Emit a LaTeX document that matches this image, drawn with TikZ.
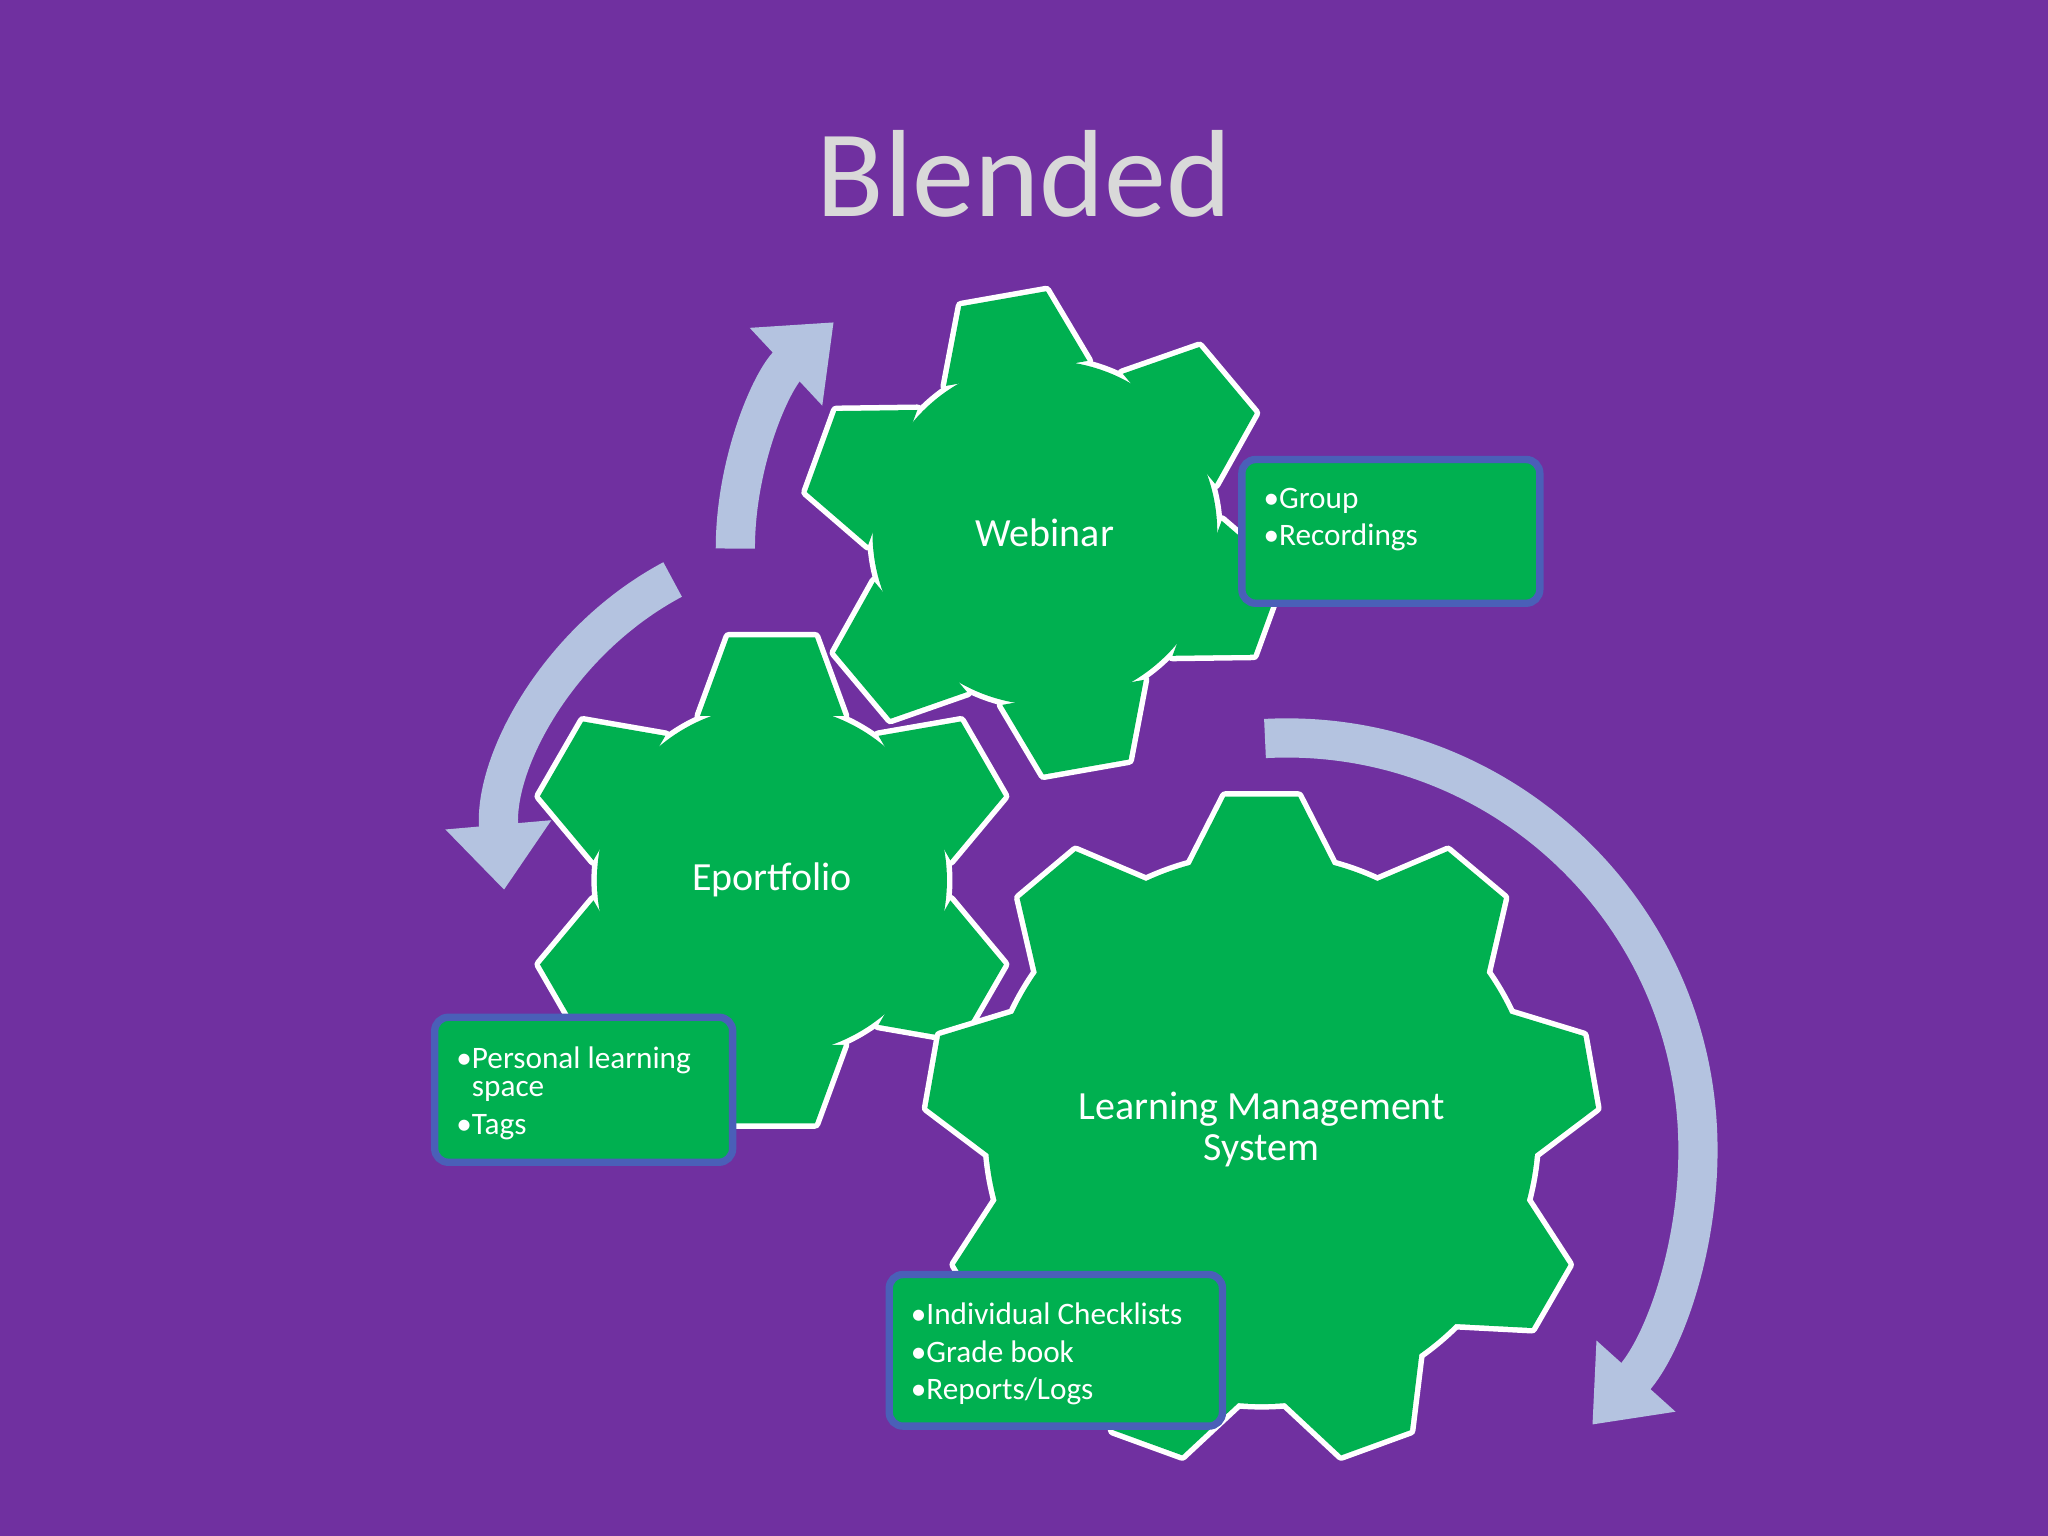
\documentclass[tikz,border=0pt]{standalone}
\usepackage{fontspec}
\setmainfont{Carlito}
\usetikzlibrary{arrows.meta}
\definecolor{bg}{HTML}{7030A0}
\definecolor{gr}{HTML}{00B050}
\definecolor{ar}{HTML}{B4C3E0}
\definecolor{bx}{HTML}{4A5FB8}
\tikzset{
 x=0.01cm,y=-0.01cm,
 lbl/.style={text=white,font=\fontsize{8.7}{10}\selectfont,align=center},
 infobox/.style={draw=bx,line width=1.6pt,fill=gr,rounded corners=3pt,anchor=north west,inner sep=0pt},
 btxt/.style={text=white,font=\fontsize{6.8}{8.2}\selectfont,anchor=north west,align=left},
 arr/.style={draw=ar,line width=0.3cm,-{Triangle[width=0.78cm,length=0.5cm]}}
}
\newcommand{\gearparts}[7]{%
  \path[#7] (#1) circle[radius=#2];
  \foreach \a in {#6}{
    \path[#7,shift={(#1)},rotate=\a-90] (-#5,-#2+8) -- (-#4,-#3) -- (#4,-#3) -- (#5,-#2+8) -- cycle;
  }%
}
\newcommand{\gear}[6]{%
  \gearparts{#1}{#2}{#3}{#4}{#5}{#6}{draw=white,line width=2.4pt,line join=round}
  \gearparts{#1}{#2}{#3}{#4}{#5}{#6}{fill=gr}
}
\begin{document}
\begin{tikzpicture}
\fill[bg] (0,0) rectangle (1568,1176);
\useasboundingbox (0,0) rectangle (1568,1176);
\node[text={rgb,255:red,217;green,217;blue,217},font=\fontsize{27}{30}\selectfont] (title) at (784,133) {Blended};

% arrows
\draw[arr] (800,420) ++(-180:237) arc[start angle=-180,end angle=-133,radius=237];
\draw[arr] (630,660) ++(-118:245) arc[start angle=-118,end angle=-185,radius=245];
\draw[arr] (985,880) ++(-93:315) arc[start angle=-93,end angle=42,radius=315];

% gears
\gear{800,408}{132}{182}{33}{55}{100,40,-20,-80,160,220}
\gear{591,674}{134}{186}{33}{55}{90,30,-30,-90,150,210}
\gear{966,865}{210}{255}{28}{55}{90,50,10,-30,-70,-110,-150,170,130}

\node[lbl] (web) at (800,408) {Webinar};
\node[lbl] (epo) at (591,674) {Eportfolio};
\node[lbl] (lms) at (966,865) {Learning Management\\[-1pt]System};

% boxes
\node[infobox,minimum width=2.28cm,minimum height=1.1cm] (b1) at (948,349) {};
\node[btxt] (t1) at (955,361) {•Group\\[0pt]•Recordings};
\node[infobox,minimum width=2.28cm,minimum height=1.11cm] (b2) at (330,776) {};
\node[btxt] (t2) at (337,789) {•Personal learning\\[-2pt]\hphantom{•}space\\[0pt]•Tags};
\node[infobox,minimum width=2.55cm,minimum height=1.16cm] (b3) at (678,973) {};
\node[btxt] (t3) at (685,985) {•Individual Checklists\\[0pt]•Grade book\\[0pt]•Reports/Logs};
\end{tikzpicture}
\end{document}
